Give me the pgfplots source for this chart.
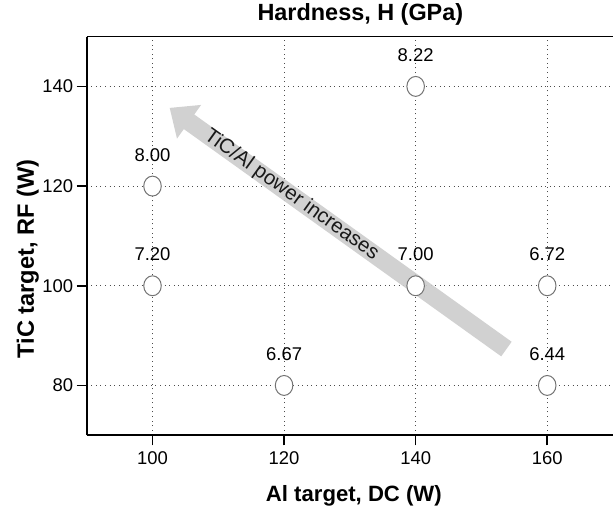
\documentclass[border=0pt]{standalone}
\usepackage{pgfplots}
\pgfplotsset{compat=1.18}
\usepackage{fontspec}
\setmainfont{Liberation Sans}
\usetikzlibrary{arrows.meta}

\begin{document}
\begin{tikzpicture}
\begin{axis}[
    scale only axis,
    width=528pt, height=400pt,
    xmin=90, xmax=170, ymin=70, ymax=150,
    xtick={100,120,140,160}, ytick={80,100,120,140},
    axis lines*=left,
    axis line style={line width=1.6pt},
    tick align=outside,
    major tick length=10pt,
    tick style={line width=1.5pt, black},
    grid=major,
    major grid style={dash pattern=on 1pt off 3.6pt, line width=1pt, black!70},
    /pgf/number format/assume math mode=true,
    tick label style={font=\fontsize{18.5}{22}\selectfont},
    xticklabel style={anchor=base, yshift=-19pt},
    title={\bfseries Hardness, H (GPa)},
    title style={font=\fontsize{23.5}{26}\selectfont, at={(axis description cs:0.52,1.025)}, anchor=base},
    xlabel={\bfseries Al target, DC (W)},
    xlabel style={font=\fontsize{22.2}{26}\selectfont, at={(axis description cs:0.5076,-0.1665)}, anchor=base},
    ylabel={\bfseries TiC target, RF (W)},
    ylabel style={font=\fontsize{23.7}{26}\selectfont, at={(axis description cs:-0.1004,0.442)}, anchor=base},
    clip=false,
]
\draw[line width=1.6pt] (rel axis cs:0,1) -- (rel axis cs:1,1);
\coordinate (ll) at (rel axis cs:0,0);
\coordinate (ur) at (rel axis cs:1,1);

\addplot[only marks, mark=*, mark size=10pt,
    mark options={fill=white, draw=black!55, line width=1pt, xscale=0.88},
    nodes near coords, point meta=explicit symbolic,
    every node near coord/.append style={font=\fontsize{18.5}{20}\selectfont, anchor=base, yshift=25pt, black}]
    coordinates {
    (100,120) [8.00]
    (100,100) [7.20]
    (120,80)  [6.67]
    (140,140) [8.22]
    (140,100) [7.00]
    (160,100) [6.72]
    (160,80)  [6.44]
};

\begin{scope}[transparency group, opacity=0.9]
\draw[line width=18pt, black!20, -{Triangle[length=24pt, width=40pt]}]
    (axis cs:153.8,87.3) -- (axis cs:102.6,135.7)
    node[pos=0.638, sloped, black, font=\fontsize{20.5}{22}\selectfont] {TiC/Al power increases};
\end{scope}
\end{axis}
\pgfresetboundingbox
\path ([shift={(-87pt,-71.3pt)}]ll) rectangle ([shift={(0pt,36.7pt)}]ur);
\end{tikzpicture}
\end{document}
